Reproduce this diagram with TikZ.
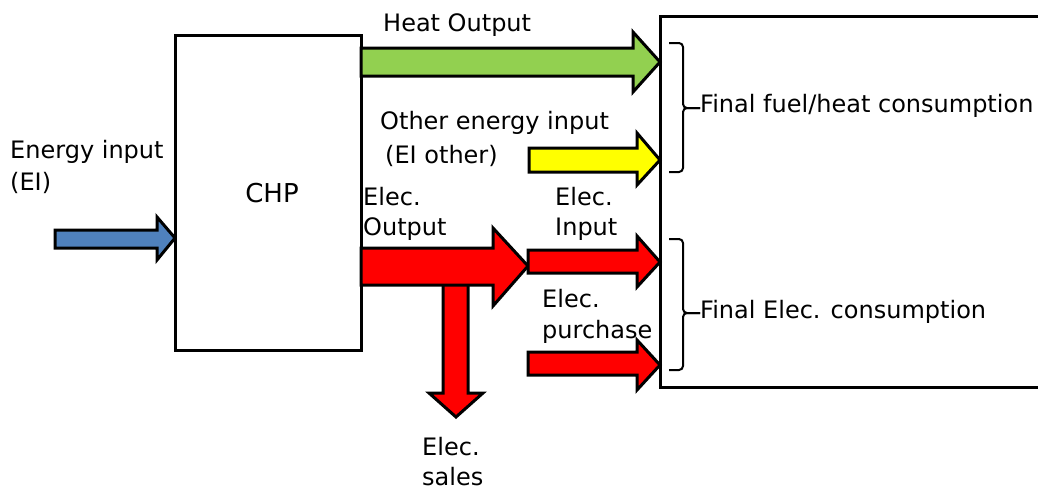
\documentclass[tikz,border=0pt]{standalone}
\usepackage{fontspec}
\setmainfont{DejaVu Sans}
\definecolor{heatgreen}{RGB}{146,208,80}
\definecolor{inblue}{RGB}{79,129,189}
\definecolor{elecred}{RGB}{255,0,0}
\definecolor{otheryellow}{RGB}{255,255,0}
\tikzset{
  blockarrow/.style={draw=black, line width=3pt, line join=miter},
  boxframe/.style={draw=black, line width=3pt, fill=white},
  lbl/.style={font=\fontsize{24}{29}\selectfont, anchor=base west, inner sep=0pt},
  bracemark/.style={draw=black, line width=2pt, rounded corners=4pt},
}
\begin{document}
\begin{tikzpicture}[x=1pt,y=-1pt]
\useasboundingbox (0,0) rectangle (1038,491);
% boxes
\path[boxframe] (175,35) rectangle (361,350);
\path[boxframe] (660,16) rectangle (1040,387);
\node[font=\fontsize{26}{30}\selectfont, anchor=base, inner sep=0pt] (chp) at (272,202) {CHP};
% blue energy input arrow
\path[blockarrow, fill=inblue] (55,230) -- (157,230) -- (157,217) -- (175,238) -- (157,260) -- (157,248) -- (55,248) -- cycle;
% green heat output
\path[blockarrow, fill=heatgreen] (361,48) -- (633,48) -- (633,32) -- (660,62) -- (633,92) -- (633,76) -- (361,76) -- cycle;
% yellow other input
\path[blockarrow, fill=otheryellow] (529,148) -- (637,148) -- (637,133) -- (660,160) -- (637,185) -- (637,172) -- (529,172) -- cycle;
% down sales arrow
\path[blockarrow, fill=elecred] (443,280) -- (468,280) -- (468,393) -- (483,393) -- (456,417) -- (429,393) -- (443,393) -- cycle;
% elec output big red
\path[blockarrow, fill=elecred] (361,248) -- (493,248) -- (493,228) -- (528,266) -- (493,306) -- (493,285) -- (361,285) -- cycle;
% elec input
\path[blockarrow, fill=elecred] (528,250) -- (637,250) -- (637,236) -- (660,262) -- (637,287) -- (637,273) -- (528,273) -- cycle;
% elec purchase
\path[blockarrow, fill=elecred] (528,352) -- (637,352) -- (637,340) -- (660,365) -- (637,390) -- (637,375) -- (528,375) -- cycle;
% braces
\coordinate (b1t) at (669,43); \coordinate (b1b) at (669,172); \coordinate (b1m) at (700,108);
\coordinate (b2t) at (669,239); \coordinate (b2b) at (669,370); \coordinate (b2m) at (700,313);
\draw[bracemark] (b1t) -- (683,43) -- (683,108) -- (b1m);
\draw[bracemark] (b1b) -- (683,172) -- (683,108) -- (b1m);
\draw[bracemark] (b2t) -- (683,239) -- (683,313) -- (b2m);
\draw[bracemark] (b2b) -- (683,370) -- (683,313) -- (b2m);
% labels
\node[lbl] (heat) at (383,31) {Heat Output};
\node[lbl] (oth1) at (380,129) {Other energy input};
\node[lbl] (oth2) at (385,163) {(EI other)};
\node[lbl] (ei1) at (10,158) {Energy input};
\node[lbl] (ei2) at (10,190) {(EI)};
\node[lbl] (eo1) at (363,205) {Elec.};
\node[lbl] (eo2) at (363,235) {Output};
\node[lbl] (ein1) at (555,205) {Elec.};
\node[lbl] (ein2) at (555,235) {Input};
\node[lbl] (ep1) at (542,307) {Elec.};
\node[lbl] (ep2) at (542,338) {purchase};
\node[lbl] (es1) at (422,455) {Elec.};
\node[lbl] (es2) at (422,485) {sales};
\node[lbl] (ffh) at (700,112) {Final fuel/heat consumption};
\node[lbl] (fel) at (700,318) {Final Elec. consumption};
\end{tikzpicture}
\end{document}
